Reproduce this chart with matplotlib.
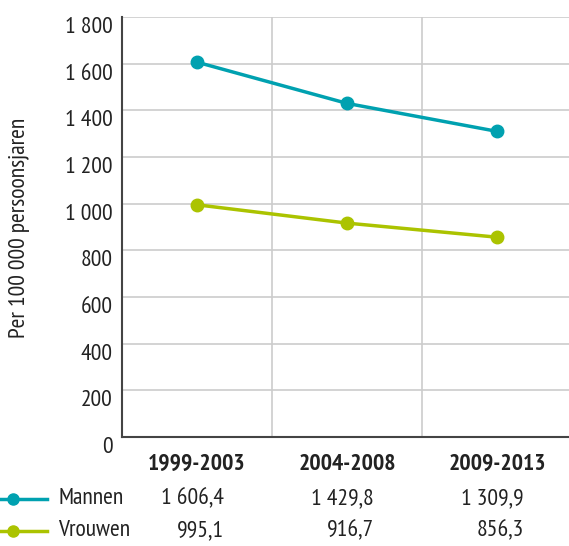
import matplotlib.pyplot as plt
import matplotlib.transforms as mtransforms
from matplotlib.lines import Line2D

periods = ["1999-2003", "2004-2008", "2009-2013"]
mannen = [1606.4, 1429.8, 1309.9]
vrouwen = [995.1, 916.7, 856.3]
series_names = ["Mannen", "Vrouwen"]
yticks = [0, 200, 400, 600, 800, 1000, 1200, 1400, 1600, 1800]

teal = "#00a1b0"
lime = "#abc300"
plt.rcParams["font.family"] = ["PT Sans Narrow", "DejaVu Sans"]
fs = 17
ink = "#222222"


def fmt(v, dec=0):
    s = f"{v:,.{dec}f}"
    return s.replace(",", " ").replace(".", ",")


fig = plt.figure(figsize=(5.69, 5.46), dpi=100)
ax = fig.add_axes([122 / 569, 1 - 437 / 546, 450 / 569, 420 / 546])

x = range(len(periods))
ax.plot(x, mannen, color=teal, lw=2.5, marker="o", ms=9, zorder=3, clip_on=False)
ax.plot(x, vrouwen, color=lime, lw=2.5, marker="o", ms=9, zorder=3, clip_on=False)

ax.set_xlim(-0.5, 2.5)
ax.set_ylim(0, 1800)
ax.set_yticks(yticks)
ax.set_yticklabels([fmt(v) for v in yticks], fontsize=fs, color=ink)
ax.set_xticks([0.5, 1.5])
ax.set_xticklabels([])
ax.tick_params(axis="x", length=0)
ax.tick_params(axis="y", length=0, pad=7)
for lbl in ax.get_yticklabels():
    lbl.set_verticalalignment("top")
ax.grid(True, color="#cccccc", lw=1.2)
ax.set_axisbelow(True)
for s in ["top", "right"]:
    ax.spines[s].set_visible(False)
for s in ["left", "bottom"]:
    ax.spines[s].set_color("#444444")
    ax.spines[s].set_linewidth(1.5)

ax.set_ylabel("Per 100 000 persoonsjaren", fontsize=fs, color=ink)
ax.yaxis.set_label_coords((30 - 122) / 450, (437 - 228) / 420)

# table below the chart, columns follow the data x positions
tr = mtransforms.blended_transform_factory(ax.transData, fig.transFigure)
for i, p in enumerate(periods):
    ax.text(i, 1 - 464 / 546, p, transform=tr, ha="center", va="center",
            fontsize=fs, fontweight="bold", color=ink, clip_on=False)
    ax.text(i + 0.18, 1 - 499 / 546, fmt(mannen[i], 1), transform=tr,
            ha="right", va="center", fontsize=fs, color=ink, clip_on=False)
    ax.text(i + 0.18, 1 - 531 / 546, fmt(vrouwen[i], 1), transform=tr,
            ha="right", va="center", fontsize=fs, color=ink, clip_on=False)

for name, col, yy in zip(series_names, [teal, lime], [499, 531]):
    yf = 1 - yy / 546
    fig.add_artist(Line2D([0, 47 / 569], [yf, yf], color=col, lw=2.5,
                          transform=fig.transFigure))
    fig.add_artist(Line2D([13 / 569], [yf], color=col, marker="o", ms=8,
                          transform=fig.transFigure))
    fig.text(58 / 569, yf, name, ha="left", va="center", fontsize=fs, color=ink)

fig.savefig("out.png", dpi=100)
